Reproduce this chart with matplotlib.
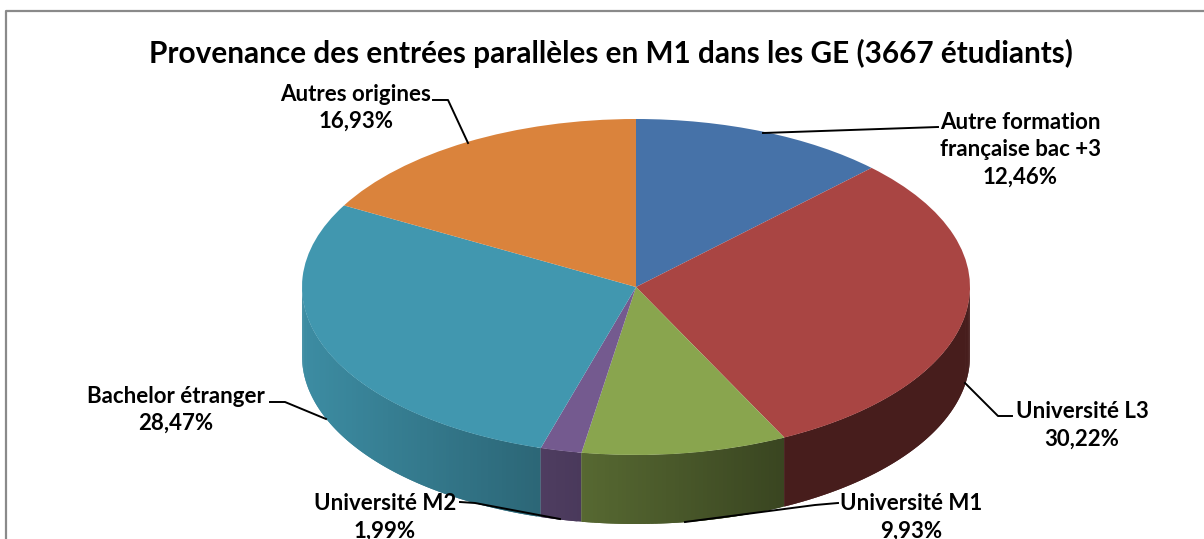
import numpy as np
import matplotlib
matplotlib.use('Agg')
import matplotlib.pyplot as plt
from matplotlib.transforms import Affine2D

W, H = 1204, 539

names = ['Autre formation\nfrançaise bac +3', 'Université L3', 'Université M1',
         'Université M2', 'Bachelor étranger', 'Autres origines']
values = [12.46, 30.22, 9.93, 1.99, 28.47, 16.93]
colors = ['#4672a8', '#a94543', '#89a54e', '#745a8f', '#4197af', '#da833c']
title = 'Provenance des entrées parallèles en M1 dans les GE (3667 étudiants)'

plt.rcParams['font.family'] = ['Lato', 'DejaVu Sans']

fig = plt.figure(figsize=(W / 100, H / 100), dpi=100)
ax = fig.add_axes([0, 0, 1, 1])

# unit circle in data space is squashed to the pie ellipse
cx, cy, rx, ry, depth = 636, 287, 334, 168, 69
ax.pie(values, colors=colors, startangle=90, counterclock=False, radius=1)
ax.set_aspect('auto')
ax.set_xlim(-cx / rx, (W - cx) / rx)
ax.set_ylim(-(H - cy) / ry, cy / ry)
ax.axis('off')


def shade(x_px):
    # side wall gets darker going right
    return 0.42 + 0.51 * np.clip((783 - x_px) / 481, 0, None)


# side walls, front half only
d = depth / ry
edges = np.cumsum([0] + values) / sum(values) * 2 * np.pi
for a0, a1, col in zip(edges[:-1], edges[1:], colors):
    lo, hi = max(a0, np.pi / 2), min(a1, 3 * np.pi / 2)
    if hi <= lo:
        continue
    base = np.array(matplotlib.colors.to_rgb(col))
    steps = max(int((hi - lo) / 0.012), 2)
    t = np.linspace(lo, hi, steps + 1)
    for i in range(steps):
        # each strip reaches over the next one so no seams show
        t0, t1 = t[i], t[min(i + 2, steps)]
        xs = [np.sin(t0), np.sin(t1), np.sin(t1), np.sin(t0)]
        ys = [np.cos(t0), np.cos(t1), np.cos(t1) - d, np.cos(t0) - d]
        c = base * shade(cx + rx * np.sin((t[i] + t[i + 1]) / 2))
        ax.fill(xs, ys, color=c, lw=0, zorder=0.5 + 0.001 * i)

# everything below is placed in reference pixels
px = Affine2D().scale(1 / W, -1 / H).translate(0, 1) + fig.transFigure

fig.text(610.5, 53, title, transform=px, ha='center', va='center',
         fontsize=21.4, fontweight='bold', color='black')

label_pos = [(1020, 150), (1082, 425.5), (911, 517.5), (385, 517.5), (176, 410), (356, 108)]
for name, val, (x, y) in zip(names, values, label_pos):
    txt = f'{name}\n{val:.2f}%'.replace('.', ',')
    fig.text(x, y, txt, transform=px, ha='center', va='center', fontsize=16,
             fontweight='bold', linespacing=1.37, color='black')

leaders = [
    ([938, 763], [127, 133]),
    ([1012, 998, 965], [416, 416, 383]),
    ([838, 815, 685], [503, 505, 522]),
    ([460, 475, 560], [502, 503, 519]),
    ([270, 285, 326], [402, 402, 419]),
    ([433, 448, 468], [100, 100, 143]),
]
for xs, ys in leaders:
    ax.plot(xs, ys, transform=px, color='black', lw=1.4, zorder=5, clip_on=False)

# chart frame, runs off the crop at right and bottom
ax.plot([6, 6, W], [H, 10.5, 10.5], transform=px, color='#8a8a8a', lw=1.6, zorder=6)

fig.savefig('out.png', dpi=100, facecolor='white')
